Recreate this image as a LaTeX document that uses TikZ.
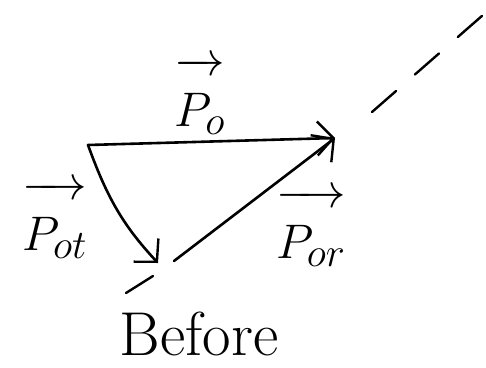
\documentclass[tikz,border=0pt]{standalone}
\usepackage{graphicx}
\usetikzlibrary{arrows.meta}
\newcommand{\biglbl}[1]{\scalebox{1.95}{\Huge$\overrightarrow{\rule{0pt}{1.1em}#1}$}}
\begin{document}
\begin{tikzpicture}[x=1pt,y=1pt,
  vec/.style={line width=2.6pt,line cap=round,-{Straight Barb[length=16pt,width=34pt,line width=2.4pt]}},
  guide/.style={line width=2.4pt,line cap=round,dash pattern=on 32pt off 25pt},
  lbl/.style={inner sep=0pt},
  captxt/.style={font=\fontsize{62}{68}\selectfont,inner sep=0pt}]
\useasboundingbox (0,0) rectangle (486,-367);
\coordinate (A) at (88,-145);
\coordinate (B) at (335,-138);
\coordinate (C1) at (158,-263);
\coordinate (C2) at (174,-261);
\coordinate (D1) at (126,-293);
\coordinate (D2) at (483,-15);
\coordinate (Cd) at (153,-276);
\coordinate (Bd) at (372,-112);
% vectors
\draw[vec] (A) -- (B);
\draw[vec] (A) to[out=-70,in=133] (C1);
\draw[vec] (C2) -- (B);
% dashed line of the surface
\draw[guide] (D1) -- (Cd);
\draw[guide] (Bd) -- (D2);
% labels
\node[lbl] (lo) at (200,-96) {\biglbl{P_{o}}};
\node[lbl] (lot) at (55,-220) {\biglbl{P_{ot}}};
\node[lbl] (lor) at (311,-228) {\biglbl{P_{or}}};
\node[captxt] (bef) at (199,-334) {Before};
\end{tikzpicture}
\end{document}
